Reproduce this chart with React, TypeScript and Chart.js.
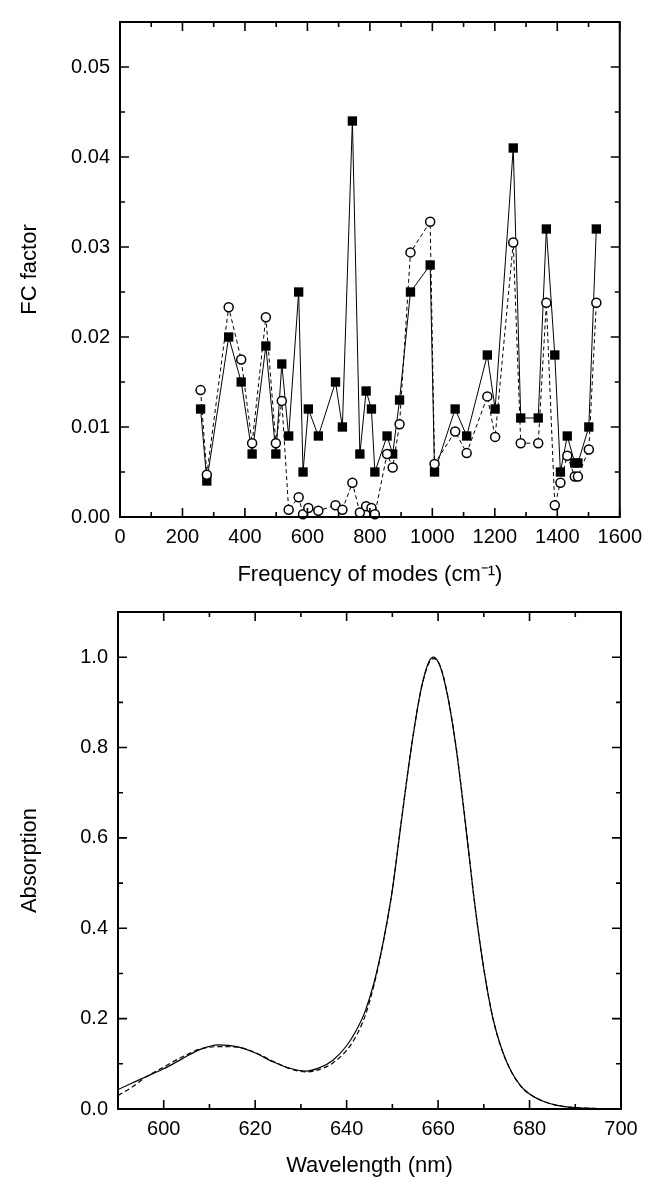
import React, { useEffect, useRef } from "react";
import { Chart, registerables } from "chart.js";

Chart.register(...registerables);

// ---------- Top chart data (FC factor vs mode frequency) ----------
const modeFreq = [
  258, 278, 348, 388, 423, 467, 499, 518, 540, 572, 586, 603, 635, 690, 712, 744,
  768, 788, 805, 816, 855, 873, 895, 930, 993, 1007, 1073, 1110, 1176, 1201, 1259,
  1283, 1339, 1365, 1392, 1410, 1432, 1456, 1466, 1501, 1525,
];
const fcSquares = [
  0.012, 0.004, 0.02, 0.015, 0.007, 0.019, 0.007, 0.017, 0.009, 0.025, 0.005, 0.012,
  0.009, 0.015, 0.01, 0.044, 0.007, 0.014, 0.012, 0.005, 0.009, 0.007, 0.013, 0.025,
  0.028, 0.005, 0.012, 0.009, 0.018, 0.012, 0.041, 0.011, 0.011, 0.032, 0.018, 0.005,
  0.009, 0.006, 0.006, 0.01, 0.032,
];
const fcCircles = [
  0.0141, 0.0047, 0.0233, 0.0175, 0.0082, 0.0222, 0.0082, 0.0129, 0.0008, 0.0022,
  0.0003, 0.001, 0.0007, 0.0013, 0.0008, 0.0038, 0.0005, 0.0012, 0.001, 0.0003, 0.007,
  0.0055, 0.0103, 0.0294, 0.0328, 0.0059, 0.0095, 0.0071, 0.0134, 0.0089, 0.0305,
  0.0082, 0.0082, 0.0238, 0.0013, 0.0038, 0.0068, 0.0045, 0.0045, 0.0075, 0.0238,
];
const topXTicks = [0, 200, 400, 600, 800, 1000, 1200, 1400, 1600];
const topXMinor = [100, 300, 500, 700, 900, 1100, 1300, 1500];
const topYTicks = [0, 0.01, 0.02, 0.03, 0.04, 0.05];
const topYTickLabels = ["0.00", "0.01", "0.02", "0.03", "0.04", "0.05"];
const topYMinor = [0.005, 0.015, 0.025, 0.035, 0.045];

// ---------- Bottom chart data (absorption spectrum) ----------
const wavelengths = [
  590, 593, 596, 600, 604, 608, 612, 616, 620, 624, 628, 631, 634, 637, 640, 642, 644,
  646, 648, 650, 652, 654, 656, 657, 658, 659, 660, 661, 662, 663, 664, 665, 666, 668,
  670, 672, 674, 676, 678, 680, 683, 686, 690, 695, 700,
];
const absSolid = [
  0.043, 0.057, 0.071, 0.089, 0.111, 0.132, 0.142, 0.138, 0.124, 0.104, 0.089, 0.084,
  0.091, 0.108, 0.14, 0.172, 0.215, 0.28, 0.37, 0.485, 0.64, 0.79, 0.915, 0.96, 0.99,
  1.0, 0.99, 0.962, 0.918, 0.862, 0.795, 0.715, 0.63, 0.455, 0.31, 0.2, 0.13, 0.083,
  0.052, 0.033, 0.017, 0.008, 0.003, 0.001, 0.0,
];
const absDashed = [
  0.03, 0.048, 0.07, 0.093, 0.115, 0.133, 0.138, 0.137, 0.125, 0.105, 0.088, 0.082,
  0.087, 0.102, 0.13, 0.16, 0.205, 0.275, 0.368, 0.485, 0.64, 0.79, 0.915, 0.958, 0.987,
  0.997, 0.99, 0.964, 0.92, 0.864, 0.797, 0.717, 0.632, 0.455, 0.31, 0.2, 0.13, 0.083,
  0.052, 0.033, 0.017, 0.008, 0.003, 0.001, 0.0,
];
const botXTicks = [600, 620, 640, 660, 680, 700];
const botXMinor = [610, 630, 650, 670, 690];
const botYTicks = [0, 0.2, 0.4, 0.6, 0.8, 1.0];
const botYTickLabels = ["0.0", "0.2", "0.4", "0.6", "0.8", "1.0"];
const botYMinor = [0.1, 0.3, 0.5, 0.7, 0.9];

const FONT_FAMILY = "'Liberation Sans', Arial, Helvetica, sans-serif";
const tickFont = { family: FONT_FAMILY, size: 20 };
const titleFont = { family: FONT_FAMILY, size: 22 };

const frameTicks = {
  id: "frameTicks",
  afterDraw(chart: any, _args: any, opts: any) {
    const { ctx, chartArea: a, scales } = chart;
    const xs = scales.x;
    const ys = scales.y;
    ctx.save();
    ctx.strokeStyle = "#000";
    ctx.lineWidth = 1.6;
    ctx.beginPath();
    const vx = (v: number, len: number) => {
      const p = xs.getPixelForValue(v);
      ctx.moveTo(p, a.bottom);
      ctx.lineTo(p, a.bottom - len);
      ctx.moveTo(p, a.top);
      ctx.lineTo(p, a.top + len);
    };
    const vy = (v: number, len: number) => {
      const p = ys.getPixelForValue(v);
      ctx.moveTo(a.left, p);
      ctx.lineTo(a.left + len, p);
      ctx.moveTo(a.right, p);
      ctx.lineTo(a.right - len, p);
    };
    opts.xMajor.forEach((v: number) => vx(v, 9));
    opts.xMinor.forEach((v: number) => vx(v, 5));
    opts.yMajor.forEach((v: number) => vy(v, 9));
    opts.yMinor.forEach((v: number) => vy(v, 5));
    ctx.stroke();
    ctx.lineWidth = 2;
    ctx.strokeRect(a.left, a.top, a.right - a.left, a.bottom - a.top);
    ctx.restore();
  },
};

function makeScale(
  min: number,
  max: number,
  tickVals: number[],
  labels: string[],
  title: string,
  size: number,
  horizontal: boolean,
  titlePad: any,
  tickPad: number
) {
  return {
    type: "linear",
    min,
    max,
    grid: { display: false, drawTicks: false },
    border: { display: false },
    ticks: {
      font: tickFont,
      color: "#000",
      padding: tickPad,
      autoSkip: false,
      maxRotation: 0,
      minRotation: 0,
      callback: (v: number) => {
        const i = tickVals.findIndex((t) => Math.abs(t - v) < 1e-9);
        return i >= 0 ? labels[i] : "";
      },
    },
    afterBuildTicks: (s: any) => {
      s.ticks = tickVals.map((v) => ({ value: v }));
    },
    afterFit: (s: any) => {
      if (horizontal) s.height = size;
      else s.width = size;
    },
    title: {
      display: true,
      text: title,
      font: titleFont,
      color: "#000",
      padding: titlePad,
    },
  };
}

export default function App() {
  const topRef = useRef<HTMLCanvasElement>(null);
  const botRef = useRef<HTMLCanvasElement>(null);

  useEffect(() => {
    const topChart = new Chart(topRef.current as HTMLCanvasElement, {
      type: "line",
      data: {
        datasets: [
          {
            label: "open",
            data: modeFreq.map((x, i) => ({ x, y: fcCircles[i] })),
            borderColor: "#000",
            borderWidth: 1,
            borderDash: [4, 3],
            pointStyle: "circle",
            pointRadius: 4.5,
            pointBorderWidth: 1.5,
            pointBackgroundColor: "#fff",
            pointBorderColor: "#000",
            tension: 0,
            fill: false,
            clip: false,
          },
          {
            label: "filled",
            data: modeFreq.map((x, i) => ({ x, y: fcSquares[i] })),
            borderColor: "#000",
            borderWidth: 1,
            pointStyle: "rect",
            pointRadius: 6.6,
            pointBorderWidth: 0,
            pointBackgroundColor: "#000",
            pointBorderColor: "#000",
            tension: 0,
            fill: false,
            clip: false,
          },
        ],
      },
      options: {
        responsive: false,
        animation: false,
        devicePixelRatio: 1,
        layout: { padding: { top: 15, right: 28, left: 0, bottom: 0 } },
        plugins: {
          legend: { display: false },
          tooltip: { enabled: false },
          frameTicks: { xMajor: topXTicks, xMinor: topXMinor, yMajor: topYTicks, yMinor: topYMinor },
        } as any,
        scales: {
          x: makeScale(0, 1600, topXTicks, topXTicks.map(String), "Frequency of modes (cm\u207B\u00B9)", 73, true, { top: 0, bottom: 2 }, 8),
          y: makeScale(0, 0.055, topYTicks, topYTickLabels, "FC factor", 120, false, { top: 17, bottom: 0 }, 10),
        } as any,
      },
      plugins: [frameTicks],
    } as any);

    const botChart = new Chart(botRef.current as HTMLCanvasElement, {
      type: "line",
      data: {
        datasets: [
          {
            label: "solid",
            data: wavelengths.map((x, i) => ({ x, y: absSolid[i] })),
            borderColor: "#000",
            borderWidth: 1.2,
            pointRadius: 0,
            cubicInterpolationMode: "monotone",
            fill: false,
          },
          {
            label: "dashed",
            data: wavelengths.map((x, i) => ({ x, y: absDashed[i] })),
            borderColor: "#000",
            borderWidth: 1.2,
            borderDash: [5, 3],
            pointRadius: 0,
            cubicInterpolationMode: "monotone",
            fill: false,
          },
        ],
      },
      options: {
        responsive: false,
        animation: false,
        devicePixelRatio: 1,
        layout: { padding: { top: 17, right: 29, left: 0, bottom: 0 } },
        plugins: {
          legend: { display: false },
          tooltip: { enabled: false },
          frameTicks: { xMajor: botXTicks, xMinor: botXMinor, yMajor: botYTicks, yMinor: botYMinor },
        } as any,
        scales: {
          x: makeScale(590, 700, botXTicks, botXTicks.map(String), "Wavelength (nm)", 70, true, { top: 0, bottom: 0 }, 8),
          y: makeScale(0, 1.1, botYTicks, botYTickLabels, "Absorption", 118, false, { top: 17, bottom: 0 }, 10),
        } as any,
      },
      plugins: [frameTicks],
    } as any);

    return () => {
      topChart.destroy();
      botChart.destroy();
    };
  }, []);

  return (
    <div
      style={{
        position: "absolute",
        left: 0,
        top: 0,
        width: 650,
        height: 1179,
        background: "#fff",
      }}
    >
      <canvas
        ref={topRef}
        width={650}
        height={590}
        style={{ position: "absolute", left: 0, top: 0, width: 650, height: 590 }}
      />
      <canvas
        ref={botRef}
        width={650}
        height={589}
        style={{ position: "absolute", left: 0, top: 590, width: 650, height: 589 }}
      />
    </div>
  );
}
